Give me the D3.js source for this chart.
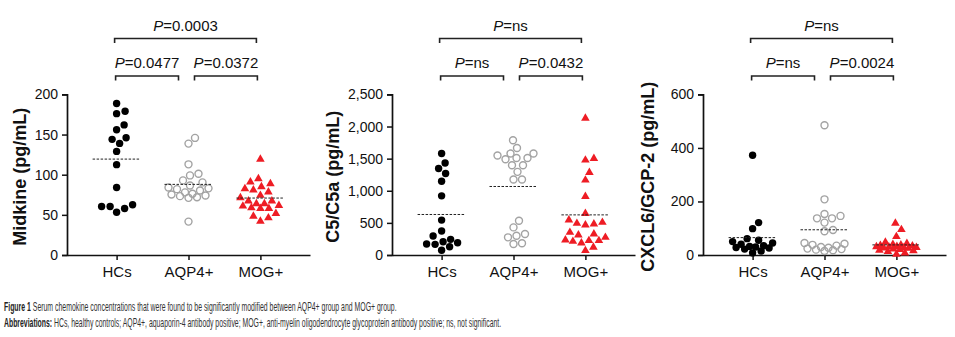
<!DOCTYPE html>
<html>
<head>
<meta charset="utf-8">
<script src="https://cdn.jsdelivr.net/npm/d3@7/dist/d3.min.js"></script>
<style>
  html, body { margin: 0; padding: 0; background: #fff; }
  svg { display: block; }
  text { font-family: "Liberation Sans", Arial, sans-serif; }
</style>
</head>
<body>
<svg id="chart" width="955" height="337"></svg>
<script>
// ---------- data ----------
const categories = ["HCs", "AQP4+", "MOG+"];

const midkineHCs  = [188.7, 176, 179, 162, 156, 144, 139, 146, 129, 112.5, 84, 62.5, 60.4, 53.3, 58, 60.4];
const midkineAQP4 = [145.8, 138.7, 112.9, 101.2, 99.1, 92.9, 90.4, 86.6, 84, 83, 82, 80.4, 78, 76.2, 75.4, 74.1, 73.3, 72, 71.2, 41.6];
const midkineMOG  = [119.9, 95.8, 89.5, 91.6, 83.3, 85.8, 81.6, 79.1, 75, 67.9, 64.5, 62.5, 58.7, 58.7, 59.5, 61.6, 64.5, 67.9, 72, 49.1, 42.9, 47, 52.5];

const c5HCs  = [1579, 1433, 1346, 1269, 1149, 921, 543, 295, 373, 191, 166, 244, 207, 171, 129, 73];
const c5AQP4 = [1786, 1666, 1579, 1579, 1511, 1491, 1511, 1548, 1398, 1398, 1294, 1175, 1175, 533, 430, 275, 326, 300, 171, 182];
const c5MOG  = [2138, 1511, 1486, 1294, 1175, 921, 657, 554, 502, 477, 492, 517, 337, 284, 244, 321, 362, 233, 197, 222, 233, 129, 78];

const cxcl6HCs  = [372.6, 121, 98.5, 61, 55, 50, 45, 40, 35, 32, 30, 28, 26, 22, 15, 8];
const cxcl6AQP4 = [485, 208, 146, 137, 137, 153, 121, 93.5, 88.5, 45, 42, 38, 35, 30, 27, 24, 22, 20, 18, 15];
const cxcl6MOG  = [121, 97, 71, 50, 45, 42, 40, 38, 36, 34, 33, 32, 30, 29, 28, 27, 25, 23, 20, 18, 15, 10, 5];

const midkineTicks = [0, 50, 100, 150, 200];
const c5Ticks      = [0, 500, 1000, 1500, 2000, 2500];
const cxcl6Ticks   = [0, 200, 400, 600];

const midkineP = ["0.0477", "0.0372", "0.0003"];
const c5P      = ["ns", "0.0432", "ns"];
const cxcl6P   = ["ns", "0.0024", "ns"];

const titles = ["Midkine (pg/mL)", "C5/C5a (pg/mL)", "CXCL6/GCP-2 (pg/mL)"];

const captionLine1Bold = "Figure 1";
const captionLine1 = " Serum chemokine concentrations that were found to be significantly modified between AQP4+ group and MOG+ group.";
const captionLine2Bold = "Abbreviations:";
const captionLine2 = " HCs, healthy controls; AQP4+, aquaporin-4 antibody positive; MOG+, anti-myelin oligodendrocyte glycoprotein antibody positive; ns, not significant.";

// ---------- layout ----------
const panels = [
  { series: [midkineHCs, midkineAQP4, midkineMOG], ticks: midkineTicks, p: midkineP, title: titles[0], x0: 67,  titleX: 20 },
  { series: [c5HCs, c5AQP4, c5MOG],                ticks: c5Ticks,      p: c5P,      title: titles[1], x0: 392, titleX: 333 },
  { series: [cxcl6HCs, cxcl6AQP4, cxcl6MOG],       ticks: cxcl6Ticks,   p: cxcl6P,   title: titles[2], x0: 703, titleX: 648 }
];
const plotW = 243, yTop = 94.4, yBot = 255;
const red = "#ee1c24", grey = "#a3a3a3";

const svg = d3.select("#chart");

// beeswarm-like column scatter layout
function swarm(values, yScale, W, D) {
  const order = d3.range(values.length).sort((a, b) => values[a] - values[b]);
  const placed = [];
  const offs = new Array(values.length).fill(0);
  const cands = [0];
  for (let s = 0.5; s <= W; s += 0.5) { cands.push(s, -s); }
  for (const i of order) {
    const py = yScale(values[i]);
    let chosen = null, bestX = 0, bestD = -1;
    for (const cx of cands) {
      let md = Infinity;
      for (const p of placed) {
        const d = Math.hypot(cx - p[0], py - p[1]);
        if (d < md) md = d;
      }
      if (md >= D) { chosen = cx; break; }
      if (md > bestD + 0.01) { bestD = md; bestX = cx; }
    }
    const x = chosen === null ? bestX : chosen;
    offs[i] = x;
    placed.push([x, py]);
  }
  return offs;
}

panels.forEach(pn => {
  const g = svg.append("g");
  const x = d3.scalePoint().domain(categories).range([pn.x0, pn.x0 + plotW]).padding(0.69);
  const y = d3.scaleLinear().domain([0, d3.max(pn.ticks)]).range([yBot, yTop]);

  // y axis
  const ya = g.append("g").attr("transform", `translate(${pn.x0},0)`)
    .call(d3.axisLeft(y).tickValues(pn.ticks).tickSize(5).tickPadding(4).tickFormat(d3.format(",")));
  ya.select(".domain").attr("stroke", "#111").attr("stroke-width", 1.7);
  ya.selectAll(".tick line").attr("stroke", "#111").attr("stroke-width", 1.5);
  ya.selectAll(".tick text").attr("font-size", 14).attr("fill", "#111")
    .attr("font-family", "'Liberation Sans', Arial, sans-serif");

  // x axis
  const xa = g.append("g").attr("transform", `translate(0,${yBot})`)
    .call(d3.axisBottom(x).tickSize(5).tickPadding(6).tickSizeOuter(0));
  xa.select(".domain").attr("stroke", "#111").attr("stroke-width", 1.7);
  xa.selectAll(".tick line").attr("stroke", "#111").attr("stroke-width", 1.5);
  xa.selectAll(".tick text").attr("font-size", 15).attr("fill", "#111")
    .attr("font-family", "'Liberation Sans', Arial, sans-serif");

  // y title
  g.append("text")
    .attr("transform", `translate(${pn.titleX},${(yTop + yBot) / 2 + 2}) rotate(-90)`)
    .attr("text-anchor", "middle").attr("dy", "0.35em")
    .attr("font-size", 18).attr("font-weight", "bold").attr("fill", "#111")
    .text(pn.title);

  // points
  pn.series.forEach((vals, ci) => {
    const cx = x(categories[ci]);
    const offs = swarm(vals, y, 20, 8.5);
    const grp = g.append("g");
    if (ci === 0) {
      grp.selectAll("circle").data(vals).join("circle")
        .attr("cx", (d, i) => cx + offs[i]).attr("cy", d => y(d))
        .attr("r", 3.7).attr("fill", "#000");
    } else if (ci === 1) {
      grp.selectAll("circle").data(vals).join("circle")
        .attr("cx", (d, i) => cx + offs[i]).attr("cy", d => y(d))
        .attr("r", 3.5).attr("fill", "none").attr("stroke", grey).attr("stroke-width", 1.4);
    } else {
      grp.selectAll("path").data(vals).join("path")
        .attr("d", d3.symbol(d3.symbolTriangle, 32))
        .attr("transform", (d, i) => `translate(${cx + offs[i]},${y(d) + 0.6})`)
        .attr("fill", red);
    }
    // mean line
    const m = d3.mean(vals);
    g.append("line")
      .attr("x1", cx - 24).attr("x2", cx + 24)
      .attr("y1", y(m)).attr("y2", y(m))
      .attr("stroke", "#222").attr("stroke-width", 1).attr("stroke-dasharray", "2.5,1.5");
  });

  // significance brackets
  const c0 = x(categories[0]), c1 = x(categories[1]), c2 = x(categories[2]);
  const brackets = [
    { x1: c0 - 1, x2: c1 - 10, yy: 76, label: pn.p[0] },
    { x1: c1 + 6, x2: c2 - 3,  yy: 76, label: pn.p[1] },
    { x1: c0 - 2, x2: c2 - 4,  yy: 38.5, label: pn.p[2] }
  ];
  brackets.forEach(b => {
    g.append("path")
      .attr("d", `M${b.x1},${b.yy + 4.5}V${b.yy}H${b.x2}V${b.yy + 4.5}`)
      .attr("fill", "none").attr("stroke", "#222").attr("stroke-width", 1.6);
    const t = g.append("text")
      .attr("x", (b.x1 + b.x2) / 2).attr("y", b.yy - 8)
      .attr("text-anchor", "middle").attr("font-size", 15).attr("fill", "#111");
    t.append("tspan").attr("font-style", "italic").text("P");
    t.append("tspan").text("=" + b.label);
  });
});

// caption: one text per line, horizontally scaled to the reference width
const capFont = "'Liberation Sans Narrow', 'DejaVu Sans Condensed', 'Liberation Sans', sans-serif";
function capLine(boldStr, str, x, y, w) {
  const t = svg.append("text").attr("font-size", 12)
    .attr("font-family", capFont).attr("fill", "#333");
  t.append("tspan").attr("font-weight", "bold").attr("fill", "#222").text(boldStr);
  t.append("tspan").text(str);
  const nat = t.node().getComputedTextLength();
  t.attr("transform", `translate(${x},${y}) scale(${w / nat},1)`);
}
capLine(captionLine1Bold, captionLine1, 4, 311, 393);
capLine(captionLine2Bold, captionLine2, 4, 327, 498);
</script>
</body>
</html>
